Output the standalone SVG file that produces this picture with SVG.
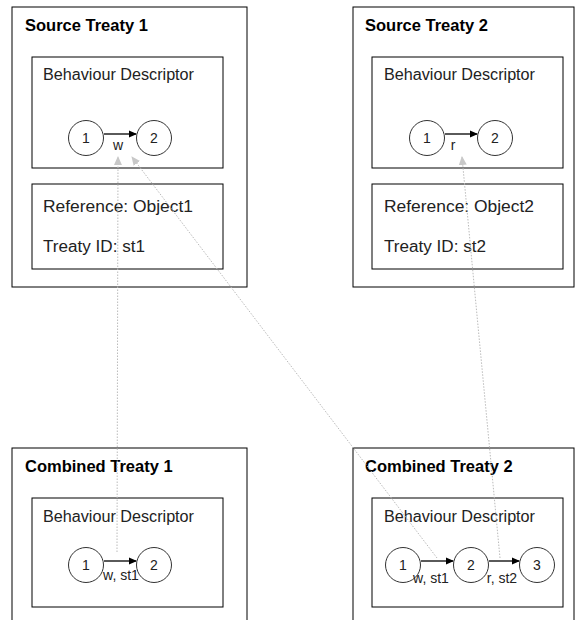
<svg xmlns="http://www.w3.org/2000/svg" width="576" height="620" viewBox="0 0 576 620">
<style>
.box{fill:#fff;stroke:#000;stroke-width:1}
.title{font-family:"Liberation Sans",Arial,sans-serif;font-weight:bold;font-size:16.5px;fill:#000}
.txt{font-family:"Liberation Sans",Arial,sans-serif;font-size:16px;fill:#222}
.num{font-family:"Liberation Sans",Arial,sans-serif;font-size:14px;fill:#222;text-anchor:middle}
.lbl{font-family:"Liberation Sans",Arial,sans-serif;font-size:14px;fill:#222;text-anchor:middle}
.st{fill:#fff;stroke:#333;stroke-width:1}
.edge{stroke:#000;stroke-width:1.3;fill:none;marker-end:url(#ah)}
.dot{stroke:#bbb;stroke-width:1;stroke-dasharray:1.5 1.5;fill:none;marker-end:url(#gh)}
</style>
<defs>
<marker id="ah" markerWidth="8" markerHeight="8" refX="7" refY="4" orient="auto" markerUnits="userSpaceOnUse"><path d="M0,0.5 L8,4 L0,7.5 Z" fill="#000"/></marker>
<marker id="gh" markerWidth="9" markerHeight="9" refX="8" refY="4.5" orient="auto" markerUnits="userSpaceOnUse"><path d="M0,0.5 L9,4.5 L0,8.5 Z" fill="#c8c8c8"/></marker>
</defs>
<rect width="576" height="620" fill="#fff"/>

<g id="source1">
<rect class="box" x="12" y="7" width="235" height="280"/>
<text class="title" x="25" y="31">Source Treaty 1</text>
<rect class="box" x="32" y="57" width="191" height="111"/>
<text class="txt" x="43" y="80" textLength="151" lengthAdjust="spacingAndGlyphs">Behaviour Descriptor</text>
<circle class="st" cx="86" cy="138" r="17.5"/><text class="num" x="86" y="143">1</text>
<circle class="st" cx="154" cy="138" r="17.5"/><text class="num" x="154" y="143">2</text>
<line class="edge" x1="104" y1="134" x2="136" y2="134"/>
<text class="lbl" x="118" y="150">w</text>
<rect class="box" x="32" y="184" width="191" height="85"/>
<text class="txt" x="43" y="212" textLength="150" lengthAdjust="spacingAndGlyphs">Reference: Object1</text>
<text class="txt" x="43" y="252" textLength="102" lengthAdjust="spacingAndGlyphs">Treaty ID: st1</text>
</g>

<g id="source2">
<rect class="box" x="353" y="7" width="221" height="280"/>
<text class="title" x="365" y="31">Source Treaty 2</text>
<rect class="box" x="372" y="57" width="191" height="111"/>
<text class="txt" x="384" y="80" textLength="151" lengthAdjust="spacingAndGlyphs">Behaviour Descriptor</text>
<circle class="st" cx="427" cy="138" r="17.5"/><text class="num" x="427" y="143">1</text>
<circle class="st" cx="495" cy="138" r="17.5"/><text class="num" x="495" y="143">2</text>
<line class="edge" x1="445" y1="134" x2="477" y2="134"/>
<text class="lbl" x="453" y="150">r</text>
<rect class="box" x="372" y="184" width="191" height="85"/>
<text class="txt" x="384" y="212" textLength="150" lengthAdjust="spacingAndGlyphs">Reference: Object2</text>
<text class="txt" x="384" y="252" textLength="102" lengthAdjust="spacingAndGlyphs">Treaty ID: st2</text>
</g>

<g id="combined1">
<rect class="box" x="12" y="448" width="235" height="180"/>
<text class="title" x="25" y="472">Combined Treaty 1</text>
<rect class="box" x="32" y="498" width="191" height="109"/>
<text class="txt" x="43" y="522" textLength="151" lengthAdjust="spacingAndGlyphs">Behaviour Descriptor</text>
<circle class="st" cx="86" cy="565" r="17.5"/><text class="num" x="86" y="570">1</text>
<circle class="st" cx="154" cy="565" r="17.5"/><text class="num" x="154" y="570">2</text>
<line class="edge" x1="104" y1="561" x2="136" y2="561"/>
<text class="lbl" x="121" y="580">w, st1</text>
</g>

<g id="combined2">
<rect class="box" x="353" y="448" width="221" height="180"/>
<text class="title" x="365" y="472">Combined Treaty 2</text>
<rect class="box" x="372" y="498" width="191" height="109"/>
<text class="txt" x="384" y="522" textLength="151" lengthAdjust="spacingAndGlyphs">Behaviour Descriptor</text>
<circle class="st" cx="403" cy="565" r="17.5"/><text class="num" x="403" y="570">1</text>
<circle class="st" cx="471" cy="565" r="17.5"/><text class="num" x="471" y="570">2</text>
<circle class="st" cx="537" cy="565" r="17.5"/><text class="num" x="537" y="570">3</text>
<line class="edge" x1="421" y1="561" x2="453" y2="561"/>
<line class="edge" x1="489" y1="561" x2="519" y2="561"/>
<text class="lbl" x="431" y="583">w, st1</text>
<text class="lbl" x="502" y="583">r, st2</text>
</g>

<g id="connectors">
<line class="dot" x1="117" y1="552" x2="118" y2="157"/>
<line class="dot" x1="437" y1="558" x2="132" y2="157"/>
<line class="dot" x1="500" y1="558" x2="462" y2="157"/>
</g>
</svg>
